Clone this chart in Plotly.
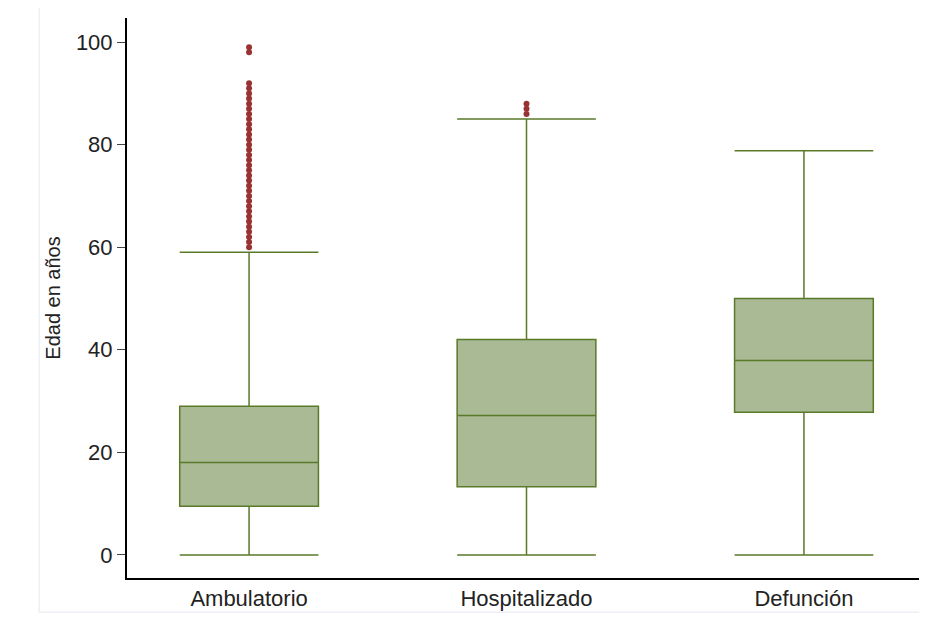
import plotly.graph_objects as go

categories = ["Ambulatorio", "Hospitalizado", "Defunción"]
q1 = [9.5, 13.3, 27.8]
median = [18, 27.2, 37.9]
q3 = [29, 42, 50]
lower = [0, 0, 0]
upper = [59, 85, 78.8]

amb_outliers = list(range(60, 93)) + [98, 99]
hosp_outliers = [86, 87, 88]

fig = go.Figure()
fig.add_trace(go.Box(
    x=[0, 1, 2], q1=q1, median=median, q3=q3,
    lowerfence=lower, upperfence=upper,
    fillcolor="#a9ba94", line=dict(color="#5a7a2a", width=1.5),
    whiskerwidth=1, width=0.5, boxpoints=False, showlegend=False, hoverinfo="y"
))
out_x = [0] * len(amb_outliers) + [1] * len(hosp_outliers)
out_y = amb_outliers + hosp_outliers
fig.add_trace(go.Scatter(
    x=out_x, y=out_y, mode="markers",
    marker=dict(color="#993333", size=6), showlegend=False
))

fig.update_layout(
    width=927, height=633,
    margin=dict(l=119, r=9, t=10, b=63),
    plot_bgcolor="white", paper_bgcolor="white",
    font=dict(family="Liberation Sans, Arial", size=22, color="#222"),
    xaxis=dict(showline=True, linecolor="black", linewidth=2, ticks="",
               tickvals=[0, 1, 2], ticktext=categories, tickfont=dict(size=22),
               range=[-0.44, 2.44], showgrid=False, zeroline=False),
    yaxis=dict(title=dict(text="Edad en años", font=dict(size=20), standoff=10),
               range=[-4.5, 104.7], tickvals=[0, 20, 40, 60, 80, 100],
               tickfont=dict(size=22),
               showline=True, linecolor="black", linewidth=2,
               ticks="outside", ticklen=8, showgrid=False, zeroline=False),
    shapes=[
        dict(type="line", xref="paper", yref="paper", x0=-0.11, x1=-0.11,
             y0=-0.061, y1=1.03, line=dict(color="#e3e9ee", width=1)),
        dict(type="line", xref="paper", yref="paper", x0=-0.11, x1=1.0,
             y0=-0.061, y1=-0.061, line=dict(color="#e3e9ee", width=1)),
    ],
)

fig.write_html("out.html")
